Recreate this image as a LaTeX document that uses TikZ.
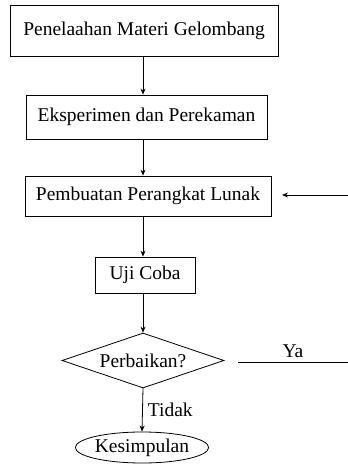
\documentclass[tikz,border=0pt]{standalone}
\usepackage{fontspec}
\setmainfont{Liberation Serif}
\usetikzlibrary{shapes.geometric,arrows.meta}
\begin{document}
\begin{tikzpicture}[x=1pt,y=-1pt,
  every node/.style={font=\fontsize{19.5}{22}\selectfont, inner sep=0pt},
  stepbox/.style={draw, line width=0.8pt, rectangle, minimum width=#1},
  arr/.style={line width=0.8pt, -{Stealth[length=6pt,width=5pt]}},
  ln/.style={line width=0.8pt}]
\useasboundingbox (0,0) rectangle (348,464);
\coordinate (ax) at (143,0);
\node[stepbox=268pt, minimum height=51pt] (b1) at (144,30.5) {Penelaahan Materi Gelombang};
\node[stepbox=241pt, minimum height=44pt] (b2) at (146.5,117) {Eksperimen dan Perekaman};
\node[stepbox=246pt, minimum height=40pt] (b3) at (148,196) {Pembuatan Perangkat Lunak};
\node[stepbox=100pt, minimum height=36pt] (b4) at (145,275) {Uji Coba};
\node[draw, line width=0.8pt, diamond, minimum width=162pt, minimum height=55pt, aspect=2.9] (d) at (143,360.5) {Perbaikan?};
\node[draw, line width=0.8pt, ellipse, minimum width=128pt, minimum height=31pt] (e) at (142,447.5) {Kesimpulan};
\draw[arr] (b1.south -| ax) -- (b2.north -| ax);
\draw[arr] (b2.south -| ax) -- (b3.north -| ax);
\draw[arr] (b3.south -| ax) -- (b4.north -| ax);
\draw[arr] (b4.south -| ax) -- (d.north -| ax);
\draw[arr] (d.south) -- (e.north) node[midway, right=5pt, anchor=west] (t) {Tidak};
\coordinate (ya1) at (238,362);
\coordinate (ya2) at (348,362);
\draw[ln] (ya1) -- (ya2) node[pos=0.5, above=4pt] (ya) {Ya};
\coordinate (r1) at (348,195);
\coordinate (r2) at (282,195);
\draw[arr] (r1) -- (r2);
\end{tikzpicture}
\end{document}
